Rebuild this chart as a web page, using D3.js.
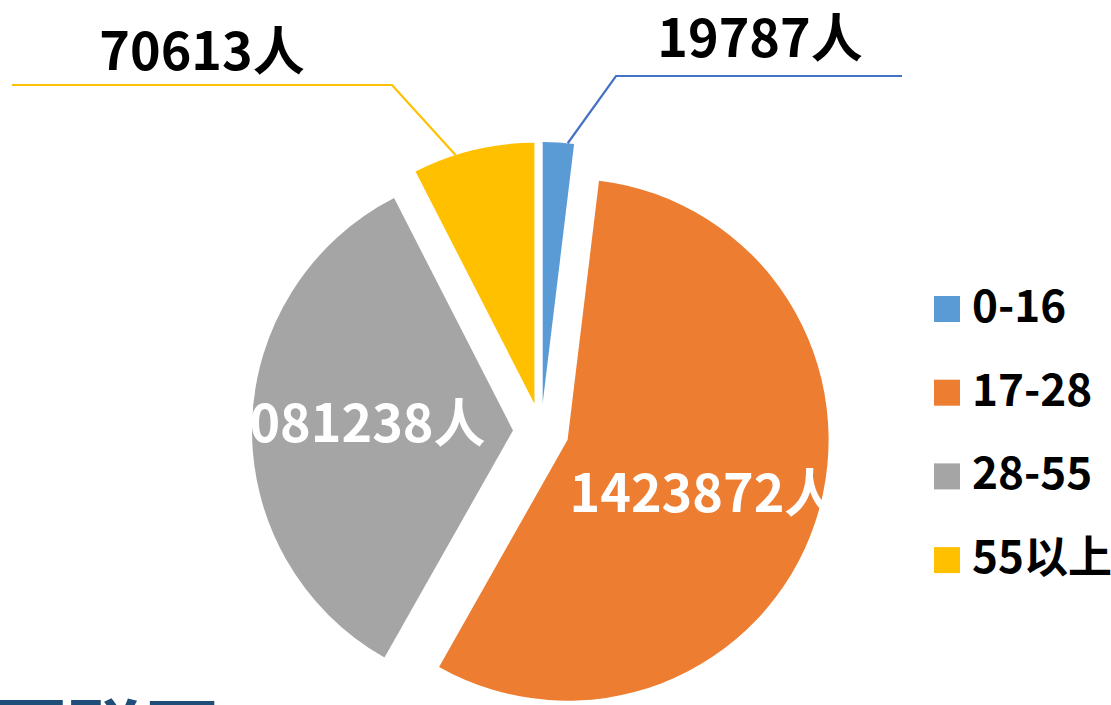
<!DOCTYPE html>
<html>
<head>
<meta charset="utf-8">
<script src="https://cdn.jsdelivr.net/npm/d3@7/dist/d3.min.js"></script>
<style>
  html, body { margin: 0; padding: 0; background: #fff; }
  svg { display: block; }
  text { font-family: "Noto Sans CJK SC", "Microsoft YaHei", sans-serif; font-weight: 700; }
</style>
</head>
<body>
<svg id="chart" width="1111" height="705"></svg>
<script>
// ---- data ----
const categories = ["0-16", "17-28", "28-55", "55以上"];
const counts = [19787, 1423872, 1081238, 70613];          // printed data labels
const shares = [1.92, 56.28, 34.28, 7.53];                // slice sizes (%)
const colors = ["#5B9BD5", "#ED7D31", "#A5A5A5", "#FFC000"];
const leaderColors = ["#4472C4", null, null, "#FFC000"];
const footerText = "互联网";

// ---- layout ----
const W = 1111, H = 705;
const cx = 541, cy = 431, R = 261, explode = 28;

const svg = d3.select("#chart");

const pie = d3.pie().sort(null).value(d => d).startAngle(0).endAngle(2 * Math.PI);
const arcs = pie(shares);
const arc = d3.arc().innerRadius(0).outerRadius(R);

function offset(a) {
  const m = (a.startAngle + a.endAngle) / 2;
  return [explode * Math.sin(m), -explode * Math.cos(m)];
}
function polar(a, ang, r) {
  const [ox, oy] = offset(a);
  return [cx + ox + r * Math.sin(ang), cy + oy - r * Math.cos(ang)];
}

const gPie = svg.append("g");
gPie.selectAll("path")
  .data(arcs)
  .join("path")
  .attr("d", arc)
  .attr("fill", (d, i) => colors[i])
  .attr("transform", d => {
    const [ox, oy] = offset(d);
    return `translate(${cx + ox},${cy + oy})`;
  });

const fmt = v => v + "人";

// inside labels (orange, gray) placed polar from slice apex
const inside = [
  null,
  { ang: 112.0, r: 146, dy: 18 },
  { ang: 272.3, r: 161, dy: 18 },
  null
];
inside.forEach((p, i) => {
  if (!p) return;
  const [x, y] = polar(arcs[i], p.ang * Math.PI / 180, p.r);
  svg.append("text")
    .attr("x", x).attr("y", y + p.dy)
    .attr("text-anchor", "middle")
    .attr("font-size", 52)
    .attr("fill", "#ffffff")
    .text(fmt(counts[i]));
});

// outside labels with leader lines (blue, yellow)
const outside = [
  { ang: 5.5, elbow: [616, 76], end: [902, 76], tx: 760, ty: 57 },
  null, null,
  { ang: 342.4, elbow: [392, 85], end: [12, 85], tx: 202, ty: 70 }
];
outside.forEach((p, i) => {
  if (!p) return;
  const start = polar(arcs[i], p.ang * Math.PI / 180, R);
  svg.append("path")
    .attr("d", d3.line()([start, p.elbow, p.end]))
    .attr("fill", "none")
    .attr("stroke", leaderColors[i])
    .attr("stroke-width", 2.2);
  svg.append("text")
    .attr("x", p.tx).attr("y", p.ty)
    .attr("text-anchor", "middle")
    .attr("font-size", 52)
    .attr("fill", "#000")
    .text(fmt(counts[i]));
});

// legend
const legend = svg.append("g").attr("transform", "translate(934,296)");
const rowH = 83.7;
const items = legend.selectAll("g")
  .data(categories)
  .join("g")
  .attr("transform", (d, i) => `translate(0,${i * rowH})`);
items.append("rect")
  .attr("width", 26).attr("height", 26)
  .attr("fill", (d, i) => colors[i]);
items.append("text")
  .attr("x", 38).attr("y", 26)
  .attr("font-size", 44)
  .attr("fill", "#000")
  .text(d => d);

// partially visible footer title
svg.append("text")
  .attr("x", -8).attr("y", 762)
  .attr("font-size", 76)
  .attr("fill", "#1F4E79")
  .text(footerText);
</script>
</body>
</html>
